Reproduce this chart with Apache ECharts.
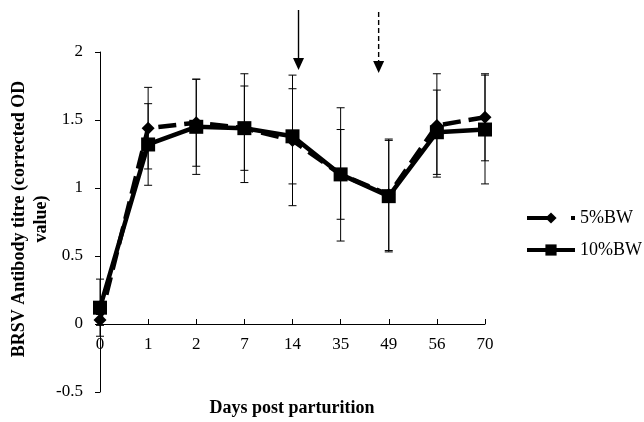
<!DOCTYPE html>
<html>
<head>
<meta charset="utf-8">
<script src="https://cdn.jsdelivr.net/npm/echarts@6/dist/echarts.min.js"></script>
<style>
html,body{margin:0;padding:0;background:#fff;}
#chart{width:644px;height:422px;}
</style>
</head>
<body>
<div id="chart"></div>
<script>
var categories = ['0','1','2','7','14','35','49','56','70'];
var bw5Mean = [0.03,1.44,1.48,1.44,1.35,1.10,0.95,1.46,1.52];
var bw5Err  = [0.04,0.30,0.32,0.31,0.48,0.49,0.41,0.38,0.32];
var bw10Mean = [0.12,1.32,1.45,1.44,1.38,1.10,0.94,1.41,1.43];
var bw10Err  = [0.21,0.30,0.35,0.40,0.35,0.33,0.41,0.31,0.40];
var yTicks = [-0.5, 0, 0.5, 1, 1.5, 2];
var seriesNames = ['5%BW','10%BW'];
var yTitle = 'BRSV Antibody titre (corrected OD\nvalue)';
var xTitle = 'Days post parturition';

var FONT = 'Liberation Serif';
var GRID_TOP = 52, GRID_BOTTOM = 30, H = 422;
var yMin = yTicks[0], yMax = yTicks[yTicks.length-1];
var plotH = H - GRID_TOP - GRID_BOTTOM;
var zeroOffset = -(0 - yMin) / (yMax - yMin) * plotH;

function errData(mean, err){
  return mean.map(function(m,i){ return [i, m-err[i], m+err[i]]; });
}
function errRender(params, api){
  var x = api.value(0);
  var lo = api.coord([x, api.value(1)]);
  var hi = api.coord([x, api.value(2)]);
  var w = 4;
  var st = {stroke:'#000', lineWidth:1};
  return {type:'group', children:[
    {type:'line', shape:{x1:lo[0],y1:lo[1],x2:hi[0],y2:hi[1]}, style:st},
    {type:'line', shape:{x1:lo[0]-w,y1:lo[1],x2:lo[0]+w,y2:lo[1]}, style:st},
    {type:'line', shape:{x1:hi[0]-w,y1:hi[1],x2:hi[0]+w,y2:hi[1]}, style:st}
  ]};
}

var chart = echarts.init(document.getElementById('chart'), null, {renderer:'canvas'});
var option = {
  animation:false,
  backgroundColor:'#fff',
  textStyle:{fontFamily:FONT, color:'#000'},
  grid:{left:100, right:159, top:GRID_TOP, bottom:GRID_BOTTOM, containLabel:false},
  legend:{
    data:[
      {name:seriesNames[0], lineStyle:{width:4, type:[24,20,4,100]}},
      {name:seriesNames[1], lineStyle:{width:4}}
    ],
    orient:'vertical', left:525, top:209, itemGap:14, padding:0,
    itemWidth:48, itemHeight:14,
    textStyle:{fontFamily:FONT, fontSize:18, color:'#000'}
  },
  xAxis:{
    type:'category', data:categories, boundaryGap:false,
    offset: zeroOffset,
    axisLine:{onZero:false, lineStyle:{color:'#000', width:1}},
    axisTick:{inside:true, length:5, lineStyle:{color:'#000'}},
    axisLabel:{fontFamily:FONT, fontSize:17, color:'#000', margin:12},
    splitLine:{show:false}
  },
  yAxis:{
    type:'value', min:yMin, max:yMax, interval:0.5,
    axisLine:{show:true, lineStyle:{color:'#000', width:1}},
    axisTick:{show:true, length:5, lineStyle:{color:'#000'}},
    axisLabel:{fontFamily:FONT, fontSize:17, color:'#000', margin:17},
    splitLine:{show:false}
  },
  series:[
    {type:'custom', name:'err5', renderItem:errRender, data:errData(bw5Mean,bw5Err), z:1, silent:true},
    {type:'custom', name:'err10', renderItem:errRender, data:errData(bw10Mean,bw10Err), z:1, silent:true},
    {type:'line', name:seriesNames[0], data:bw5Mean, symbol:'diamond', symbolSize:13,
      itemStyle:{color:'#000'}, lineStyle:{color:'#000', width:4.5, type:[18,8]}, z:3},
    {type:'line', name:seriesNames[1], data:bw10Mean, symbol:'rect', symbolSize:14,
      itemStyle:{color:'#000'}, lineStyle:{color:'#000', width:4.5}, z:4}
  ]
};
chart.setOption(option);

function arrowGraphic(catIdxA, catIdxB, frac, top, bottom, dashed){
  var pa = chart.convertToPixel({xAxisIndex:0}, catIdxA);
  var pb = chart.convertToPixel({xAxisIndex:0}, catIdxB);
  var x = pa + (pb-pa)*frac;
  var headH = 12, headW = 5.5;
  return [
    {type:'line', shape:{x1:x,y1:top,x2:x,y2:bottom-headH+1},
      style:{stroke:'#000', lineWidth:1.4, lineDash: dashed?[5,3]:null}},
    {type:'polygon', shape:{points:[[x-headW,bottom-headH],[x+headW,bottom-headH],[x,bottom]]},
      style:{fill:'#000'}}
  ];
}
var g = [];
g = g.concat(arrowGraphic(4,5,0.125,10,70,false));
g = g.concat(arrowGraphic(5,6,0.79,12,73,true));
g.push({type:'text', x:8, y:219, rotation:Math.PI/2, style:{text:yTitle, fontFamily:FONT, fontWeight:'bold', fontSize:18, fill:'#000', align:'center', verticalAlign:'top', lineHeight:22}});
g.push({type:'text', x:292, y:408, style:{text:xTitle, fontFamily:FONT, fontWeight:'bold', fontSize:18, fill:'#000', align:'center', verticalAlign:'middle'}});
chart.setOption({graphic:g});
</script>
</body>
</html>
